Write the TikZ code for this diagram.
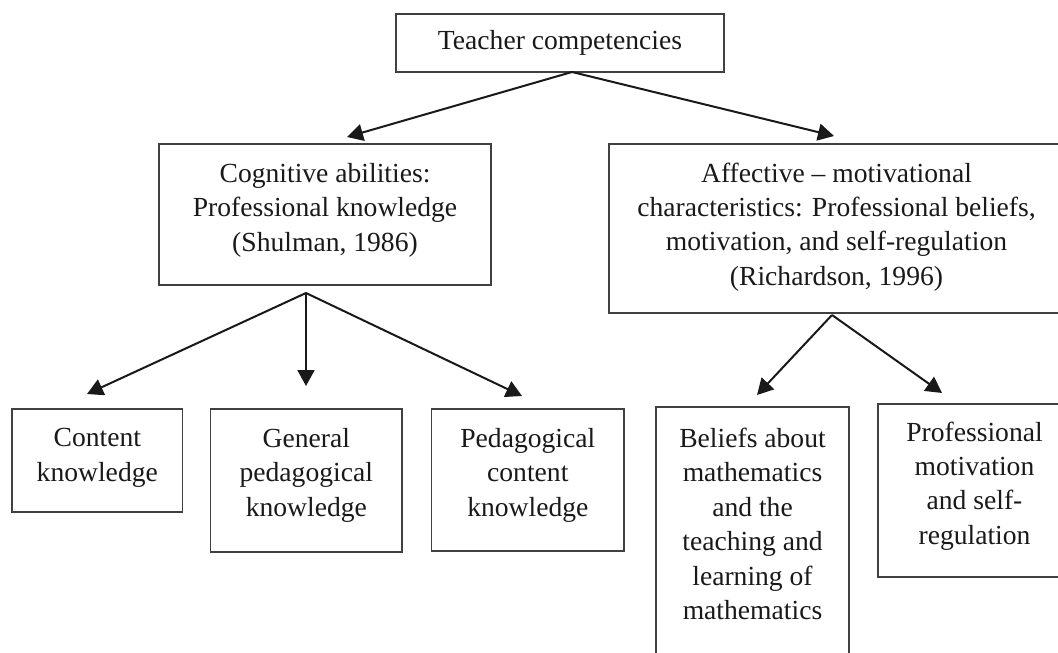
\documentclass[tikz,border=0pt]{standalone}
\usepackage{fontspec}
\setmainfont{Liberation Serif}
\usetikzlibrary{arrows.meta}
\tikzset{
  boxnode/.style={draw=black!75, line width=0.8pt, rectangle, inner sep=0pt},
  txt/.style={align=center, inner sep=0pt, font=\fontsize{13.8}{17.2}\selectfont, text=black!90},
  arr/.style={draw=black!90, line width=1pt, -{Triangle[length=8pt,width=8.5pt]}}
}
\begin{document}
\begin{tikzpicture}[x=0.5pt,y=-0.5pt]
\useasboundingbox (0,0) rectangle (1058,652);
\clip (0,0) rectangle (1058,652);
% boxes
\node[boxnode, minimum width=164pt, minimum height=29pt] (top) at (560,43) {};
\node[boxnode, minimum width=166pt, minimum height=70.5pt] (cog) at (325,214.5) {};
\node[boxnode, minimum width=227.5pt, minimum height=84.5pt] (aff) at (836.5,228.5) {};
\node[boxnode, minimum width=85.3pt, minimum height=51.5pt] (cont) at (97.3,460.5) {};
\node[boxnode, minimum width=95.7pt, minimum height=71.5pt] (gen) at (306.3,480.5) {};
\node[boxnode, minimum width=96.2pt, minimum height=71pt] (ped) at (527.8,480) {};
\node[boxnode, minimum width=96.5pt, minimum height=146.5pt] (bel) at (752.5,553.5) {};
\node[boxnode, minimum width=96.5pt, minimum height=86.5pt] (prof) at (974.5,490.5) {};
% texts
\node[txt] (topt) at (560,43) {Teacher competencies};
\node[txt] (cogt) at (325,210) {Cognitive abilities:\\Professional knowledge\\(Shulman, 1986)};
\node[txt] (afft) at (836.5,227) {Affective -- motivational\\characteristics: Professional beliefs,\\motivation, and self-regulation\\(Richardson, 1996)};
\node[txt] (contt) at (97.3,458) {Content\\knowledge};
\node[txt] (gent) at (306.3,475) {General\\pedagogical\\knowledge};
\node[txt] (pedt) at (527.8,475) {Pedagogical\\content\\knowledge};
\node[txt] (belt) at (752.5,524) {Beliefs about\\mathematics\\and the\\teaching and\\learning of\\mathematics};
\node[txt] (proft) at (974.5,486) {Professional\\motivation\\and self-\\regulation};
% connector points
\coordinate (topS) at (572,72);
\coordinate (cogN) at (347,137);
\coordinate (affN) at (834,136);
\coordinate (cogS) at (306,293);
\coordinate (contN) at (87,394);
\coordinate (genN) at (306,386);
\coordinate (pedN) at (522,396);
\coordinate (affS) at (832,315);
\coordinate (belN) at (757,395);
\coordinate (profN) at (942,393);
% arrows
\draw[arr] (topS) -- (cogN);
\draw[arr] (topS) -- (affN);
\draw[arr] (cogS) -- (contN);
\draw[arr] (cogS) -- (genN);
\draw[arr] (cogS) -- (pedN);
\draw[arr] (affS) -- (belN);
\draw[arr] (affS) -- (profN);
\end{tikzpicture}
\end{document}
